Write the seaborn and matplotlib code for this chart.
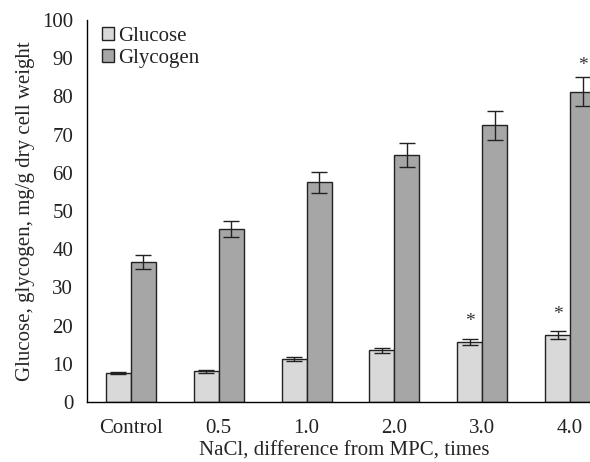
import matplotlib
matplotlib.use("Agg")
import matplotlib.pyplot as plt
import seaborn as sns
import pandas as pd

categories = ["Control", "0.5", "1.0", "2.0", "3.0", "4.0"]
glucose = [7.6, 8.0, 11.2, 13.5, 15.6, 17.6]
glucose_err = [0.3, 0.3, 0.5, 0.6, 0.8, 1.0]
glycogen = [36.7, 45.4, 57.5, 64.6, 72.5, 81.2]
glycogen_err = [1.9, 2.1, 2.8, 3.1, 3.8, 3.8]
# asterisk marks: (category index, series, height)
stars = [(4, "Glucose", 21.0), (5, "Glucose", 23.0), (5, "Glycogen", 88.0)]

df = pd.DataFrame({
    "cat": categories * 2,
    "val": glucose + glycogen,
    "series": ["Glucose"] * 6 + ["Glycogen"] * 6,
})

sns.set_style("white")
plt.rcParams["font.family"] = ["Liberation Serif", "DejaVu Serif"]
plt.rcParams["text.color"] = "#222222"
plt.rcParams["xtick.labelcolor"] = "#222222"
plt.rcParams["ytick.labelcolor"] = "#222222"

fig = plt.figure(figsize=(5.9, 4.62), dpi=100)
ax = fig.add_axes([0.1475, 0.13, 0.8525 + 0.02, 0.8267])

palette = {"Glucose": "#d9d9d9", "Glycogen": "#a6a6a6"}
sns.barplot(data=df, x="cat", y="val", hue="series", palette=palette,
            width=0.57, edgecolor="#222222", linewidth=1.0, ax=ax,
            errorbar=None, saturation=1)

errs = {"Glucose": glucose_err, "Glycogen": glycogen_err}
vals = {"Glucose": glucose, "Glycogen": glycogen}
centers = {}
for cont, name in zip(ax.containers, ["Glucose", "Glycogen"]):
    xs = [b.get_x() + b.get_width() / 2 for b in cont]
    centers[name] = xs
    ax.errorbar(xs, vals[name], yerr=errs[name], fmt="none",
                ecolor="#222222", elinewidth=1.0, capsize=6, capthick=1.0)

for i, name, h in stars:
    ax.text(centers[name][i], h, "*", ha="center", va="center",
            fontsize=14, color="#333333")

ax.set_ylim(0, 100)
ax.set_yticks(range(0, 101, 10))
ax.set_xlim(-0.5, 5.5 - 12 / 86)
ax.set_xticks([i + 0.5 for i in range(-1, 5)], minor=True)
ax.tick_params(axis="x", which="major", length=0, labelsize=15, pad=12)
ax.tick_params(axis="x", which="minor", length=6, width=1, direction="out", color="black")
ax.tick_params(axis="y", length=6, width=1, direction="out", labelsize=15, color="black", pad=4)

for s in ["top", "right"]:
    ax.spines[s].set_visible(False)
for s in ["left", "bottom"]:
    ax.spines[s].set_color("black")
    ax.spines[s].set_linewidth(1.0)

ax.set_xlabel("NaCl, difference from MPC, times", fontsize=15, labelpad=3)
ax.set_ylabel("Glucose, glycogen, mg/g dry cell weight", fontsize=15, labelpad=5)

leg = ax.legend(loc="upper left", bbox_to_anchor=(0.0, 1.02), frameon=False,
                fontsize=15, handlelength=0.6, handleheight=0.6,
                handletextpad=0.2, labelspacing=0.15, borderaxespad=0.3)
for p in leg.get_patches():
    p.set_edgecolor("#222222")

fig.savefig("out.png", dpi=100)
